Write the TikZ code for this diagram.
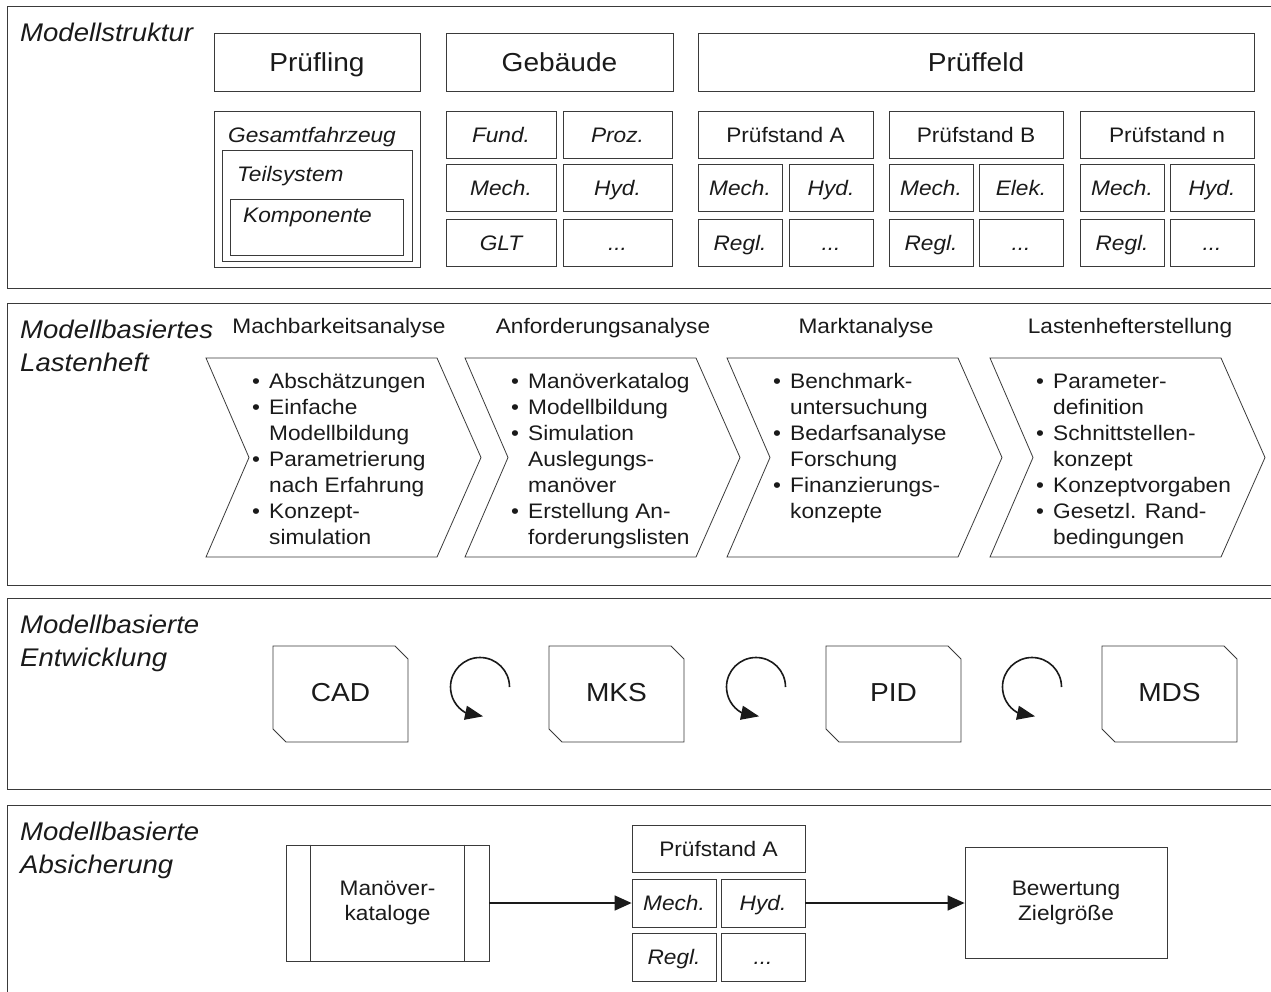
\documentclass[tikz,border=0pt]{standalone}
\usepackage{fontspec}
\setmainfont{Liberation Sans}[FakeStretch=1.08]
\usetikzlibrary{arrows.meta,bending}
\definecolor{ln}{HTML}{3A3A3A}
\definecolor{tx}{HTML}{1A1A1A}

\tikzset{
  x=1pt, y=1pt,
  sz/.style 2 args={minimum width=#1, minimum height=#2},
  frame/.style={draw=ln, line width=0.9pt},
  cell/.style={draw=ln, line width=0.8pt, inner sep=0pt, text=tx,
    font=\fontsize{21}{26}\selectfont, text height=15.2pt, text depth=0pt},
  icell/.style={cell, font=\fontsize{21}{26}\selectfont\itshape},
  big/.style={cell, font=\fontsize{26}{31}\selectfont, text height=18.7pt},
  mcell/.style={draw=ln, line width=0.8pt, inner sep=0pt, text=tx,
    align=center, font=\fontsize{21}{25}\selectfont},
  lbl/.style={anchor=base west, inner sep=0pt, text=tx,
    font=\fontsize{21}{26}\selectfont\itshape},
  ttl/.style={anchor=base west, inner sep=0pt, text=tx,
    font=\fontsize{25.5}{33}\selectfont\itshape},
  head/.style={anchor=base, inner sep=0pt, text=tx,
    font=\fontsize{21}{26}\selectfont},
  blist/.style={anchor=base west, inner sep=0pt, text=tx,
    font=\fontsize{21}{26}\selectfont},
  chev/.style={draw=ln, line width=0.8pt},
  cycarrow/.style={draw=tx, line width=1.6pt, -{Triangle[length=18pt,width=14pt]}},
  conn/.style={draw=tx, line width=1.5pt, -{Triangle[length=17pt,width=15pt]}},
}
\newcommand\bul{\makebox[17pt][l]{\textbullet}}
\newcommand\twolines[2]{\begin{tabular}[t]{@{}l@{}}#1\\#2\end{tabular}}

\begin{document}
\begin{tikzpicture}
\useasboundingbox (0,0) rectangle (1271,-992);
\clip (0,0) rectangle (1271,-992);

% ---------------- panel frames ----------------
\draw[frame] (7,-6) rectangle (1290,-288);
\draw[frame] (7,-303) rectangle (1290,-585);
\draw[frame] (7,-598) rectangle (1290,-789);
\draw[frame] (7,-805) rectangle (1290,-1010);

% ---------------- Modellstruktur ----------------
\node[ttl] (t1) at (20,-42) {Modellstruktur};

\node[big, sz={206}{58}] (pruefling) at (317,-62) {Prüfling};
\node[big, sz={227}{58}] (gebaeude) at (559.5,-62) {Gebäude};
\node[big, sz={556}{58}] (prueffeld) at (976,-62) {Prüffeld};

% nested vehicle hierarchy
\node[cell, sz={206}{156}] (gesamt) at (317,-189) {};
\node[cell, sz={190}{111}] (teil) at (317,-205.5) {};
\node[cell, sz={173}{56}] (komp) at (316.5,-227) {};
\node[lbl] (gesamtlbl) at (228,-143) {Gesamtfahrzeug};
\node[lbl] (teillbl) at (237,-182) {Teilsystem};
\node[lbl] (komplbl) at (243,-223) {Komponente};

% building disciplines
\node[icell, sz={110}{47}] (g11) at (501,-134.5) {Fund.};
\node[icell, sz={109}{47}] (g12) at (617.5,-134.5) {Proz.};
\node[icell, sz={110}{47}] (g21) at (501,-187.5) {Mech.};
\node[icell, sz={109}{47}] (g22) at (617.5,-187.5) {Hyd.};
\node[icell, sz={110}{47}] (g31) at (501,-242.5) {GLT};
\node[icell, sz={109}{47}] (g32) at (617.5,-242.5) {...};

% test benches
\node[cell, sz={175}{47}] (pa) at (785.5,-134.5) {Prüfstand A};
\node[icell, sz={84}{47}] (pa21) at (740,-187.5) {Mech.};
\node[icell, sz={84}{47}] (pa22) at (831,-187.5) {Hyd.};
\node[icell, sz={84}{47}] (pa31) at (740,-242.5) {Regl.};
\node[icell, sz={84}{47}] (pa32) at (831,-242.5) {...};

\node[cell, sz={174}{47}] (pb) at (976,-134.5) {Prüfstand B};
\node[icell, sz={84}{47}] (pb21) at (931,-187.5) {Mech.};
\node[icell, sz={84}{47}] (pb22) at (1021,-187.5) {Elek.};
\node[icell, sz={84}{47}] (pb31) at (931,-242.5) {Regl.};
\node[icell, sz={84}{47}] (pb32) at (1021,-242.5) {...};

\node[cell, sz={174}{47}] (pn) at (1167,-134.5) {Prüfstand n};
\node[icell, sz={84}{47}] (pn21) at (1122,-187.5) {Mech.};
\node[icell, sz={84}{47}] (pn22) at (1212,-187.5) {Hyd.};
\node[icell, sz={84}{47}] (pn31) at (1122,-242.5) {Regl.};
\node[icell, sz={84}{47}] (pn32) at (1212,-242.5) {...};

% ---------------- Modellbasiertes Lastenheft ----------------
\node[ttl] (t2) at (20,-338) {\twolines{Modellbasiertes}{Lastenheft}};

\foreach \L in {206,465,727,990}{
  \draw[chev] (\L,-358) -- ++(231,0) -- ++(44,-99.5) -- ++(-44,-99.5)
    -- ++(-231,0) -- ++(43,99.5) -- cycle;
}

\node[head] (h1) at (339,-333) {Machbarkeitsanalyse};
\node[head] (h2) at (603,-333) {Anforderungsanalyse};
\node[head] (h3) at (866,-333) {Marktanalyse};
\node[head] (h4) at (1130,-333) {Lastenhefterstellung};

\node[blist] (l1) at (252,-388) {\begin{tabular}[t]{@{}l@{}l@{}}
\bul & Abschätzungen\\
\bul & Einfache\\
     & Modellbildung\\
\bul & Parametrierung\\
     & nach Erfahrung\\
\bul & Konzept-\\
     & simulation
\end{tabular}};
\node[blist] (l2) at (511,-388) {\begin{tabular}[t]{@{}l@{}l@{}}
\bul & Manöverkatalog\\
\bul & Modellbildung\\
\bul & Simulation\\
     & Auslegungs-\\
     & manöver\\
\bul & Erstellung An-\\
     & forderungslisten
\end{tabular}};
\node[blist] (l3) at (773,-388) {\begin{tabular}[t]{@{}l@{}l@{}}
\bul & Benchmark-\\
     & untersuchung\\
\bul & Bedarfsanalyse\\
     & Forschung\\
\bul & Finanzierungs-\\
     & konzepte
\end{tabular}};
\node[blist] (l4) at (1036,-388) {\begin{tabular}[t]{@{}l@{}l@{}}
\bul & Parameter-\\
     & definition\\
\bul & Schnittstellen-\\
     & konzept\\
\bul & Konzeptvorgaben\\
\bul & Gesetzl. Rand-\\
     & bedingungen
\end{tabular}};

% ---------------- Modellbasierte Entwicklung ----------------
\node[ttl] (t3) at (20,-633) {\twolines{Modellbasierte}{Entwicklung}};

\foreach \L/\lab in {273/CAD,549/MKS,826/PID,1102/MDS}{
  \draw[chev] (\L,-646) -- ++(122,0) -- ++(13,-13) -- ++(0,-83)
    -- ++(-122,0) -- ++(-13,13) -- cycle;
  \node[big, draw=none] (doc\lab) at (\L+67.5,-692) {\lab};
}

\foreach \cx in {480,756,1032}{
  \draw[cycarrow] (\cx+29.5,-687) arc[start angle=0, end angle=276, radius=29.5];
}

% ---------------- Modellbasierte Absicherung ----------------
\node[ttl] (t4) at (20,-840) {\twolines{Modellbasierte}{Absicherung}};

\node[mcell, sz={203}{116}] (manoever) at (387.5,-903) {Manöver-\\kataloge};
\draw[chev] ([xshift=25pt]manoever.north west) -- ([xshift=25pt]manoever.south west);
\draw[chev] ([xshift=-25pt]manoever.north east) -- ([xshift=-25pt]manoever.south east);

\node[cell, sz={173}{47}] (qa) at (718.5,-848.5) {Prüfstand A};
\node[icell, sz={84}{48}] (qa21) at (674,-903) {Mech.};
\node[icell, sz={84}{48}] (qa22) at (763,-903) {Hyd.};
\node[icell, sz={84}{48}] (qa31) at (674,-957) {Regl.};
\node[icell, sz={84}{48}] (qa32) at (763,-957) {...};

\node[mcell, sz={202}{111}] (bewertung) at (1066,-902.5) {Bewertung\\Zielgröße};

\draw[conn] (manoever.east) -- (qa21.west);
\draw[conn] (qa22.east) -- (qa22.east -| bewertung.west);

\end{tikzpicture}
\end{document}
